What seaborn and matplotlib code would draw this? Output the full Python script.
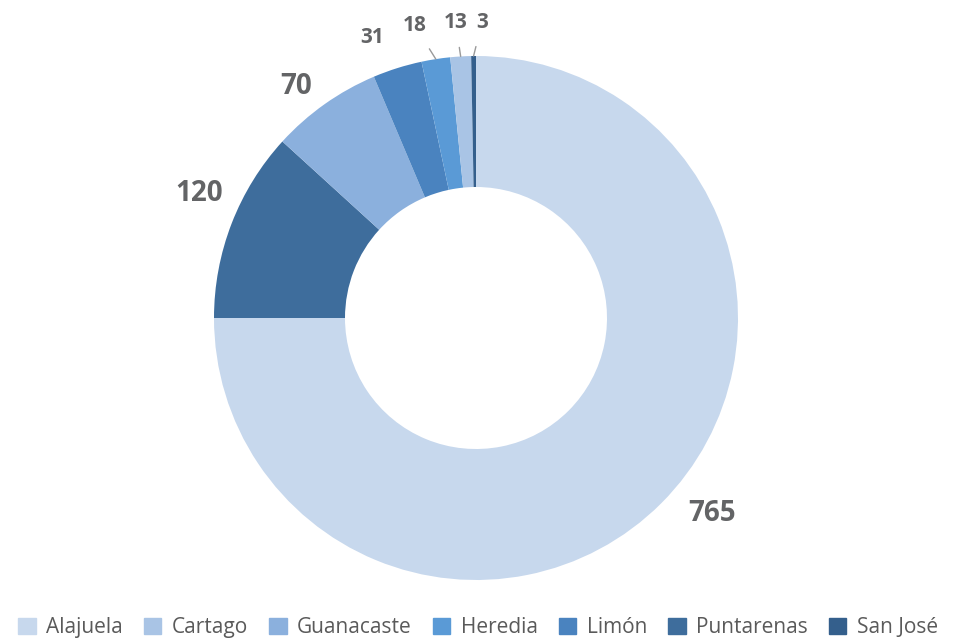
import matplotlib
matplotlib.use("Agg")
import matplotlib.pyplot as plt
import seaborn as sns
import numpy as np

# Datos (orden de las porciones, en sentido horario desde arriba)
provincias = ["Alajuela", "Puntarenas", "Guanacaste", "Limón", "Heredia", "Cartago", "San José"]
valores = [765, 120, 70, 31, 18, 13, 3]
# Orden de la leyenda
orden_leyenda = ["Alajuela", "Cartago", "Guanacaste", "Heredia", "Limón", "Puntarenas", "San José"]

colores = {
    "Alajuela": "#c7d8ed",
    "Cartago": "#a9c4e5",
    "Guanacaste": "#8bb0dd",
    "Heredia": "#5a9ad6",
    "Limón": "#4a83bf",
    "Puntarenas": "#3e6d9c",
    "San José": "#345f8c",
}

sns.set_theme(style="white")
plt.rcParams["font.family"] = ["Open Sans", "DejaVu Sans"]

fig = plt.figure(figsize=(9.56, 6.38), dpi=100)
# centro (476, 318) px, radio 262 px
ax = fig.add_axes([(476 - 262) / 956, (320 - 262) / 638, 524 / 956, 524 / 638])

wedges, _ = ax.pie(
    valores,
    colors=[colores[p] for p in provincias],
    startangle=90,
    counterclock=False,
    radius=1.0,
    wedgeprops=dict(width=0.5, linewidth=0),
)
ax.set_xlim(-1, 1)
ax.set_ylim(-1, 1)
ax.axis("off")

# Etiquetas
ajuste_ang = [5.4, -3.0, 2.6, 2.8, 3.0, 0.6, -1.7]
radio_et = [1.17, 1.16, 1.12, 1.14, 1.14, 1.13, 1.13]
gris = "#636466"
for w, v, da, r in zip(wedges, valores, ajuste_ang, radio_et):
    mid = (w.theta1 + w.theta2) / 2
    ang = np.deg2rad(mid + da)
    x, y = r * np.cos(ang), r * np.sin(ang)
    size = 20 if v >= 70 else 15
    if v < 30:
        m = np.deg2rad(mid)
        ax.annotate(
            str(v), xy=(np.cos(m), np.sin(m)), xytext=(x, y),
            ha="center", va="center", fontsize=size, fontweight="bold", color=gris,
            arrowprops=dict(arrowstyle="-", color="#9a9a9a", lw=1, shrinkA=8, shrinkB=0),
        )
    else:
        ax.text(x, y, str(v), ha="center", va="center",
                fontsize=size, fontweight="bold", color=gris)

# Leyenda
handles = [plt.Rectangle((0, 0), 1, 1, color=colores[p]) for p in orden_leyenda]
fig.legend(
    handles, orden_leyenda, loc="lower center", bbox_to_anchor=(0.5, -0.03),
    ncol=7, frameon=False, fontsize=15, handlelength=0.85, handleheight=0.85,
    handletextpad=0.5, columnspacing=1.0, labelcolor="#5a5a5a",
)

fig.savefig("out.png", dpi=100)
